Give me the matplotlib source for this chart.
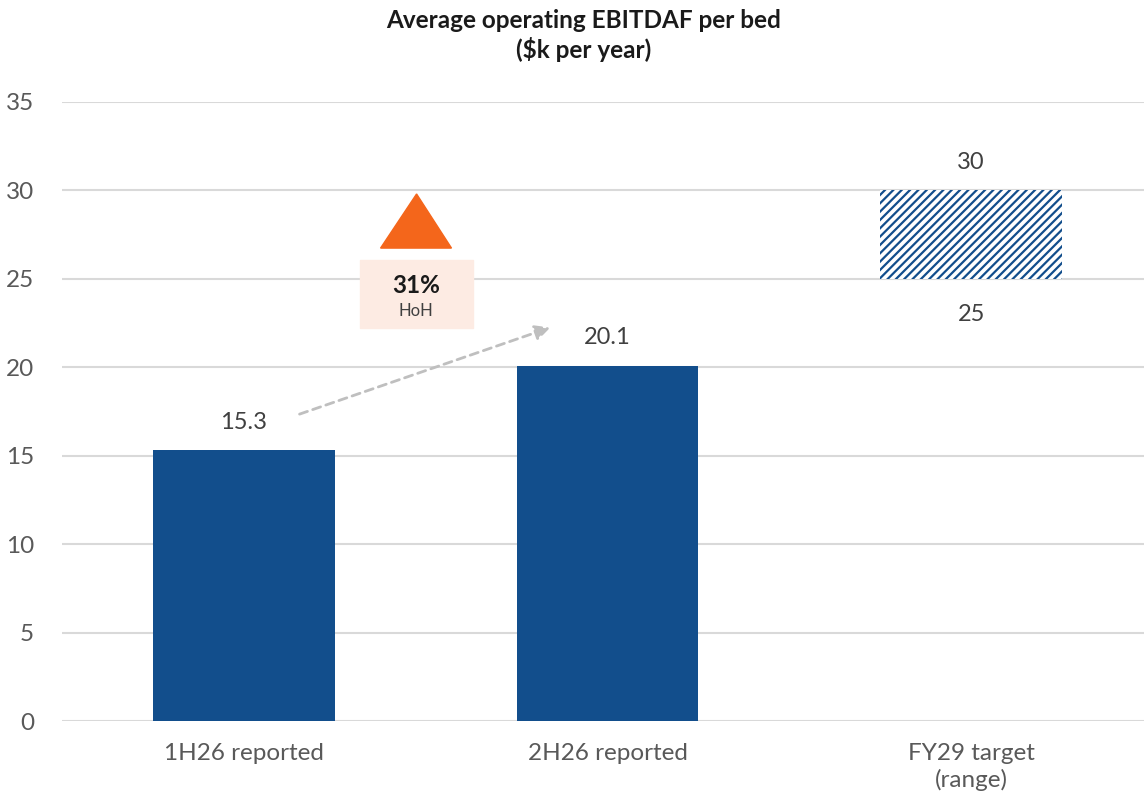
import matplotlib
matplotlib.use("Agg")
import matplotlib.pyplot as plt
from matplotlib.patches import Polygon, Rectangle

categories = ["1H26 reported", "2H26 reported", "FY29 target\n(range)"]
reported = [15.3, 20.1]
target_low = 25
target_high = 30
growth_label = "31%"
growth_sub = "HoH"

navy = "#124E8C"
grey_text = "#595959"

plt.rcParams["font.family"] = ["Lato", "DejaVu Sans"]
plt.rcParams["hatch.linewidth"] = 1.6

fig = plt.figure(figsize=(11.44, 7.93), dpi=100)
ax = fig.add_axes([62 / 1144, 72 / 793, (1153 - 62) / 1144, (721 - 102) / 793])

x = list(range(len(categories)))
ax.bar(x[:2], reported, width=0.5, color=navy, zorder=3)
ax.bar(x[2], target_high - target_low, bottom=target_low, width=0.5,
       color="white", edgecolor=navy, linewidth=0, hatch="////", zorder=3)

for xi, v in zip(x[:2], reported):
    ax.text(xi, v + 1.0, f"{v:.1f}", ha="center", va="bottom",
            fontsize=17, color="#404040")
ax.text(x[2], target_high + 1.0, f"{target_high}", ha="center", va="bottom",
        fontsize=17, color="#404040")
ax.text(x[2], target_low - 1.4, f"{target_low}", ha="center", va="top",
        fontsize=17, color="#404040")

# growth arrow between the two reported bars
ax.annotate("", xy=(0.85, 22.3), xytext=(0.146, 17.3),
            arrowprops=dict(arrowstyle="-|>,head_length=0.9,head_width=0.45",
                            color="#BFBFBF", lw=2, linestyle=(0, (3, 2))),
            zorder=4)

# orange up triangle and label box
ax.add_patch(Polygon([[0.376, 26.74], [0.571, 26.74], [0.475, 29.8]],
                     closed=True, color="#F4661B", zorder=4))
ax.add_patch(Rectangle((0.319, 22.2), 0.31, 3.86, color="#FDEBE3", zorder=4))
ax.text(0.474, 24.65, growth_label, ha="center", va="center",
        fontsize=17.5, fontweight="bold", color="#1a1a1a", zorder=5)
ax.text(0.474, 23.2, growth_sub, ha="center", va="center",
        fontsize=12, color="#404040", zorder=5)

ax.set_xlim(-0.5, 2.5)
ax.set_ylim(0, 35)
ax.set_yticks(range(0, 36, 5))
ax.set_xticks(x)
ax.set_xticklabels(categories, linespacing=1.25)
ax.grid(axis="y", color="#D9D9D9", linewidth=1.5, zorder=0)
for s in ax.spines.values():
    s.set_visible(False)
ax.tick_params(axis="both", length=0, labelsize=17.5, labelcolor=grey_text)
ax.tick_params(axis="y", pad=20)
ax.tick_params(axis="x", pad=16)

fig.text(584 / 1144, 1 - 20 / 793, "Average operating EBITDAF per bed",
         ha="center", va="center", fontsize=17.5, fontweight="bold", color="#1a1a1a")
fig.text(584 / 1144, 1 - 49 / 793, "($k per year)",
         ha="center", va="center", fontsize=17.5, fontweight="bold", color="#1a1a1a")

fig.savefig("out.png", dpi=100)
